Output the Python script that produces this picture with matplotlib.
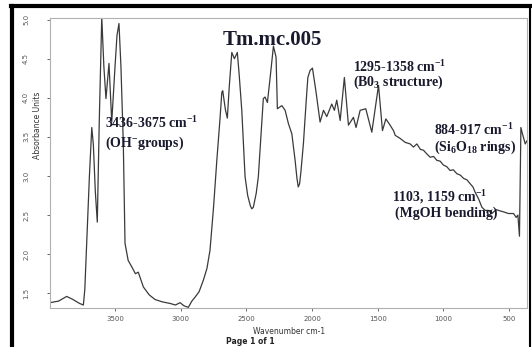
import numpy as np
import matplotlib.pyplot as plt

# FTIR spectrum, values
wavenumber = [3995, 3930, 3868, 3820, 3770, 3741, 3730, 3716, 3695, 3677, 3665, 3650, 3635,
              3620, 3601, 3585, 3569, 3546, 3525, 3500, 3485, 3470, 3455, 3437, 3424, 3400, 3373, 3345,
              3323, 3284, 3240, 3195, 3140, 3081, 3040, 3005, 2975, 2942,
              2915, 2891, 2860, 2827, 2800, 2777, 2750, 2725, 2700, 2687, 2680, 2660, 2645,
              2630, 2611, 2591, 2569, 2555, 2535, 2510, 2490, 2470, 2459, 2447, 2425, 2409, 2390, 2371,
              2358, 2340, 2319, 2294, 2274, 2264, 2230, 2205, 2180, 2154,
              2129, 2115, 2105, 2095, 2085, 2066, 2045, 2032, 2015, 1997, 1971, 1939, 1913,
              1888, 1850, 1830, 1812, 1786, 1754, 1723, 1685, 1665, 1634,
              1591, 1545, 1494, 1464, 1438, 1406, 1380, 1367, 1329, 1291,
              1253, 1228, 1202, 1175, 1152, 1125, 1101, 1075, 1050, 1025,
              1000, 975, 949, 925, 898, 870, 847, 820, 796, 775,
              758, 733, 707, 682, 657, 631, 598, 581, 540, 505,
              466, 446, 433, 421, 410, 400, 377, 364]
absorbance = [1.38, 1.40, 1.46, 1.42, 1.37, 1.35, 1.55, 2.14, 3.00, 3.62, 3.40, 2.80, 2.41,
              3.70, 5.03, 4.40, 3.99, 4.44, 3.69, 4.40, 4.80, 4.95, 4.40, 3.42, 2.14, 1.92, 1.84, 1.75,
              1.77, 1.58, 1.48, 1.42, 1.39, 1.37, 1.35, 1.38, 1.34, 1.32,
              1.40, 1.45, 1.52, 1.67, 1.82, 2.05, 2.60, 3.20, 3.75, 4.07, 4.09, 3.85, 3.74,
              4.15, 4.58, 4.50, 4.58, 4.30, 3.84, 2.99, 2.75, 2.62, 2.58, 2.60, 2.78, 2.99, 3.50, 3.99,
              4.01, 3.94, 4.26, 4.66, 4.52, 3.86, 3.90, 3.84, 3.67, 3.54,
              3.20, 2.97, 2.86, 2.90, 3.05, 3.41, 3.95, 4.26, 4.35, 4.38, 4.09, 3.69, 3.84,
              3.76, 3.92, 3.84, 3.97, 3.71, 4.26, 3.65, 3.75, 3.62, 3.84,
              3.86, 3.56, 4.16, 3.58, 3.73, 3.65, 3.58, 3.52, 3.48, 3.43,
              3.41, 3.37, 3.41, 3.34, 3.33, 3.28, 3.24, 3.25, 3.20, 3.19,
              3.14, 3.12, 3.07, 3.08, 3.03, 3.01, 2.97, 2.95, 2.90, 2.86,
              2.79, 2.71, 2.60, 2.56, 2.56, 2.52, 2.57, 2.56, 2.54, 2.52,
              2.52, 2.47, 2.50, 2.23, 3.62, 3.55, 3.41, 3.45]

x_ticks = [3500, 3000, 2500, 2000, 1500, 1000, 500]
y_ticks = [1.5, 2.0, 2.5, 3.0, 3.5, 4.0, 4.5, 5.0]

plt.rcParams['mathtext.fontset'] = 'custom'
plt.rcParams['mathtext.rm'] = 'Liberation Serif:bold'
plt.rcParams['mathtext.bf'] = 'Liberation Serif:bold'
plt.rcParams['mathtext.default'] = 'bf'

fig = plt.figure(figsize=(5.32, 3.47), dpi=100)
ax = fig.add_axes([0.094, 0.112, 0.897, 0.836])

ax.plot(wavenumber, absorbance, color='#3a3a3a', lw=0.9)
ax.set_xlim(3995, 362)
ax.set_ylim(1.31, 5.02)

ax.set_xticks(x_ticks)
ax.set_yticks(y_ticks)
ax.set_yticklabels([f'{v:.1f}' for v in y_ticks], rotation=90, va='center')
ax.tick_params(labelsize=5, colors='#555555', length=2.5, width=0.6, pad=3)
ax.tick_params(axis='y', pad=12.5)
for s in ax.spines.values():
    s.set_color('#b0b0b0')
    s.set_linewidth(0.8)

ax.set_xlabel('Wavenumber cm-1', fontsize=5.5, color='#333333', labelpad=4)
ax.set_ylabel('Absorbance Units', fontsize=5.5, color='#333333')
ax.yaxis.set_label_coords(-0.017, 0.63)
fig.text(0.47, 0.017, 'Page 1 of 1', fontsize=5.5, fontweight='bold',
         color='#222222', ha='center', va='center')

# annotations
serif = dict(family='Liberation Serif', fontweight='bold', color='#1a1a2e')
fig.text(0.512, 0.885, 'Tm.mc.005', fontsize=15, ha='center', va='center', **serif)
fig.text(0.197, 0.645, r'3436-3675 cm$^{-1}$', fontsize=10, va='center', **serif)
fig.text(0.197, 0.588, r'(OH$^{-}$groups)', fontsize=10, va='center', **serif)
fig.text(0.664, 0.808, r'1295-1358 cm$^{-1}$', fontsize=10, va='center', **serif)
fig.text(0.664, 0.764, r'(B0$_{3}$ structure)', fontsize=10, va='center', **serif)
fig.text(0.816, 0.625, r'884-917 cm$^{-1}$', fontsize=10, va='center', **serif)
fig.text(0.816, 0.576, r'(Si$_{6}$O$_{18}$ rings)', fontsize=10, va='center', **serif)
fig.text(0.737, 0.432, r'1103, 1159 cm$^{-1}$', fontsize=10, va='center', **serif)
fig.text(0.742, 0.386, r'(MgOH bending)', fontsize=10, va='center', **serif)

# black page frame
fig.add_artist(plt.Line2D([0.023, 0.023], [0.0, 0.982], color='black', lw=3))
fig.add_artist(plt.Line2D([0.021, 1.0], [0.982, 0.982], color='black', lw=3))
fig.add_artist(plt.Line2D([0.997, 0.997], [0.0, 0.982], color='black', lw=1.5))

fig.savefig('out.png', dpi=100)
